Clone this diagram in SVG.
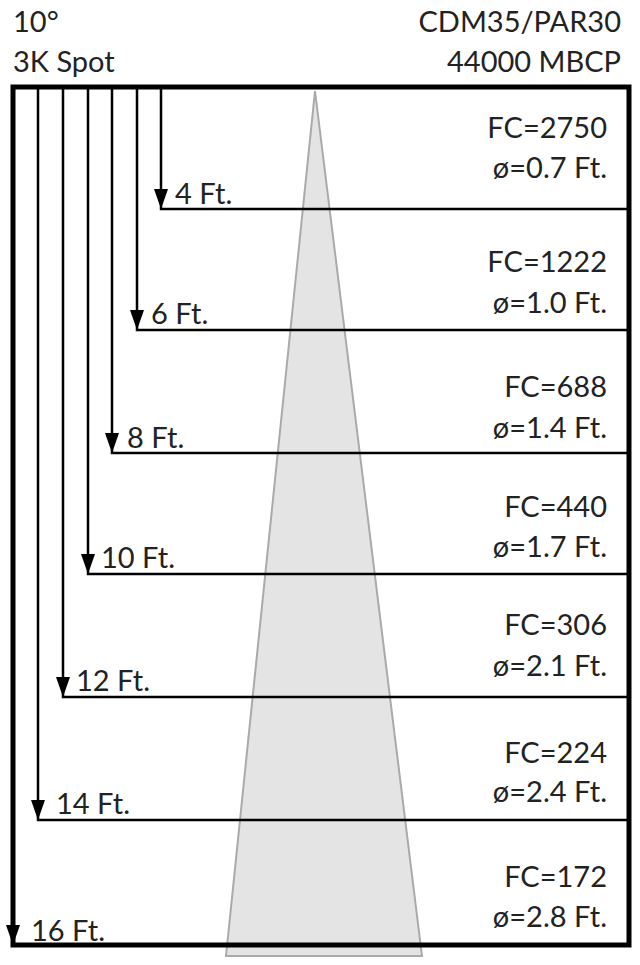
<svg xmlns="http://www.w3.org/2000/svg" width="640" height="965" viewBox="0 0 640 965">
<defs>
<style>
text{font-family:"Lato","Open Sans","Liberation Sans",sans-serif;font-size:29px;fill:#222}
.r{text-anchor:end}
.ln{stroke:#000;stroke-width:2.5;fill:none}
.frame{stroke:#000;stroke-width:5;fill:none}
.ah{fill:#000}
</style>
</defs>
<rect width="640" height="965" fill="#fff"/>
<g id="cone"><polygon points="315,91 226,956 422,956" fill="#e4e4e4" stroke="#aaaaaa" stroke-width="2"/></g>
<g id="header">
<text x="13" y="32">10°</text>
<text x="13" y="72">3K Spot</text>
<text class="r" x="621" y="32">CDM35/PAR30</text>
<text class="r" x="621" y="72">44000 MBCP</text>
</g>
<g id="connectors">
<path class="ln" d="M161,87V209H629"/>
<path class="ln" d="M137,87V330H629"/>
<path class="ln" d="M112,87V453H629"/>
<path class="ln" d="M88,87V574H629"/>
<path class="ln" d="M63,87V697H629"/>
<path class="ln" d="M38,87V820H629"/>
<polygon class="ah" points="154,189 168,189 161,209"/>
<polygon class="ah" points="130,310 144,310 137,330"/>
<polygon class="ah" points="105,433 119,433 112,453"/>
<polygon class="ah" points="81,554 95,554 88,574"/>
<polygon class="ah" points="56,677 70,677 63,697"/>
<polygon class="ah" points="31,800 45,800 38,820"/>
<polygon class="ah" points="6,925 20,925 13,945"/>
</g>
<g id="frame"><rect class="frame" x="13" y="87" width="616" height="858"/></g>
<g id="d4"><text x="175" y="204">4 Ft.</text><text class="r" x="607" y="138">FC=2750</text><text class="r" x="607" y="178">ø=0.7 Ft.</text></g>
<g id="d6"><text x="151" y="324">6 Ft.</text><text class="r" x="607" y="272">FC=1222</text><text class="r" x="607" y="313">ø=1.0 Ft.</text></g>
<g id="d8"><text x="127" y="448">8 Ft.</text><text class="r" x="607" y="397">FC=688</text><text class="r" x="607" y="438">ø=1.4 Ft.</text></g>
<g id="d10"><text x="101" y="568">10 Ft.</text><text class="r" x="607" y="517">FC=440</text><text class="r" x="607" y="557">ø=1.7 Ft.</text></g>
<g id="d12"><text x="76" y="691">12 Ft.</text><text class="r" x="607" y="635">FC=306</text><text class="r" x="607" y="676">ø=2.1 Ft.</text></g>
<g id="d14"><text x="56" y="814">14 Ft.</text><text class="r" x="607" y="763">FC=224</text><text class="r" x="607" y="802">ø=2.4 Ft.</text></g>
<g id="d16"><text x="31" y="941">16 Ft.</text><text class="r" x="607" y="887">FC=172</text><text class="r" x="607" y="927">ø=2.8 Ft.</text></g>
</svg>
